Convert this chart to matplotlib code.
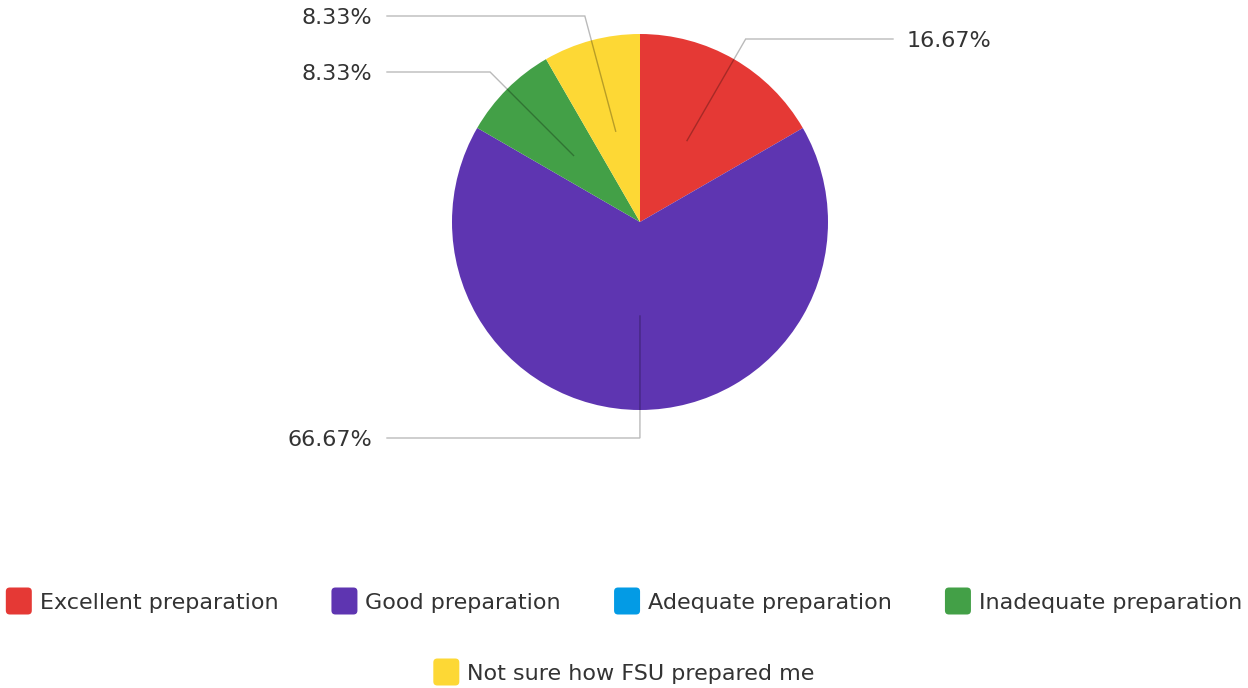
#!/usr/bin/env python3
"""Pie chart: how well FSU prepared respondents."""
import numpy as np
import matplotlib as mpl
mpl.use("Agg")
import matplotlib.pyplot as plt
from matplotlib.patches import FancyBboxPatch

# ---------------------------------------------------------------------------
# Data
# ---------------------------------------------------------------------------
categories = [
    "Excellent preparation",
    "Good preparation",
    "Adequate preparation",
    "Inadequate preparation",
    "Not sure how FSU prepared me",
]
shares = [16.67, 66.67, 0.0, 8.33, 8.33]
colours = ["#E53935", "#5E35B1", "#039BE5", "#43A047", "#FDD835"]

# ---------------------------------------------------------------------------
# Layout (pixels, measured from top-left)
# ---------------------------------------------------------------------------
W, H = 1248, 688
CX, CY, R = 640, 222, 188
LABEL_Y = [39, 438, None, 72, 16]      # row of each percentage label
RIGHT_END, LEFT_END = 893, 387         # where the leader lines stop
TEXT_COLOUR = "#333333"
FONT = ["DejaVu Sans"]
FS = 16
mpl.rcParams["font.family"] = FONT

fig = plt.figure(figsize=(W / 100, H / 100), dpi=100)
ax = fig.add_axes([0, 0, 1, 1])
ax.axis("off")


def py(y):
    return H - y


wedges, _ = ax.pie(
    shares, colors=colours, startangle=90, counterclock=False,
    center=(CX, py(CY)), radius=R, wedgeprops=dict(linewidth=0),
)
ax.set_xlim(0, W)
ax.set_ylim(0, H)

# leader lines + labels
for w, val, ly in zip(wedges, shares, LABEL_Y):
    if val <= 0 or ly is None:
        continue
    mid = np.deg2rad((w.theta1 + w.theta2) / 2)
    dx, dy = np.cos(mid), np.sin(mid)
    x0, y0 = CX + 0.5 * R * dx, py(CY) + 0.5 * R * dy
    t = (py(ly) - y0) / dy
    xe = x0 + t * dx
    right = dx > 1e-6
    xend = RIGHT_END if right else LEFT_END
    ax.plot([x0, xe, xend], [y0, py(ly), py(ly)], color="black", alpha=0.27, lw=1,
            solid_joinstyle="miter")
    if right:
        ax.text(xend + 14, py(ly), f"{val:.2f}%", ha="left", va="center_baseline",
                fontsize=FS, color=TEXT_COLOUR)
    else:
        ax.text(xend - 15, py(ly), f"{val:.2f}%", ha="right", va="center_baseline",
                fontsize=FS, color=TEXT_COLOUR)

# legend drawn by hand: rounded swatches, two centred rows
rows = [[0, 1, 2, 3], [4]]
row_y = [601, 672]
BOX_W, BOX_H, GAP_TXT, GAP_ITEM = 26, 27, 8, 53
renderer = fig.canvas.get_renderer()
for idxs, ry in zip(rows, row_y):
    texts, widths = [], []
    for i in idxs:
        t = ax.text(0, py(ry), categories[i], ha="left", va="center_baseline",
                    fontsize=FS, color=TEXT_COLOUR)
        texts.append(t)
        widths.append(t.get_window_extent(renderer).width)
    total = sum(BOX_W + GAP_TXT + tw for tw in widths) + GAP_ITEM * (len(idxs) - 1)
    x = W / 2 - total / 2
    for i, t, tw in zip(idxs, texts, widths):
        ax.add_patch(FancyBboxPatch((x + 4, py(ry) - BOX_H / 2 + 4), BOX_W - 8, BOX_H - 8,
                                    boxstyle="round,pad=4", fc=colours[i], ec="none"))
        t.set_x(x + BOX_W + GAP_TXT)
        x += BOX_W + GAP_TXT + tw + GAP_ITEM

fig.savefig("out.png", dpi=100, facecolor="white")
